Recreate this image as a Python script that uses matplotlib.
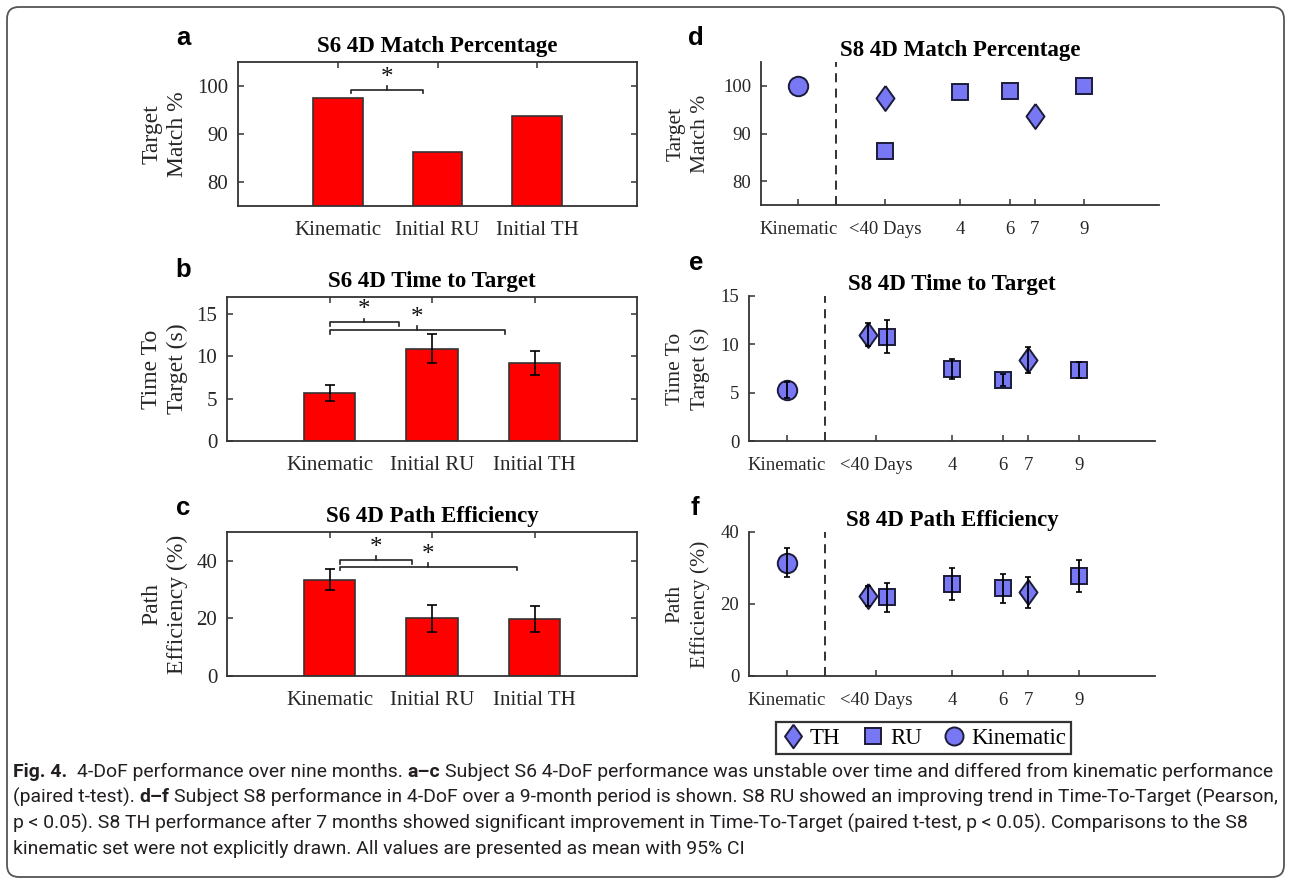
import matplotlib
matplotlib.use("Agg")
import numpy as np
import matplotlib.pyplot as plt
from matplotlib.patches import FancyBboxPatch
from matplotlib.lines import Line2D
from matplotlib import font_manager

# ---- data ----
s6_cats = ["Kinematic", "Initial RU", "Initial TH"]
s6_match = [97.6, 86.2, 93.7]
s6_time = [5.7, 10.9, 9.2]
s6_time_err = [0.95, 1.7, 1.4]
s6_path = [33.5, 20.0, 19.7]
s6_path_err = [3.7, 4.8, 4.5]

# significance brackets: (x start, x end, bracket y, star y)
s6_match_sig = [(1.13, 1.85, 99.2, 101.6)]
s6_time_sig = [(1.0, 1.68, 14.0, 15.5), (1.0, 2.71, 13.1, 14.5)]
s6_path_sig = [(1.10, 1.80, 40.3, 44.6), (1.10, 2.83, 38.0, 42.0)]

s8_tick_pos = [-2.5, 1, 4, 6, 7, 9]
s8_tick_labels = ["Kinematic", "<40 Days", "4", "6", "7", "9"]
s8_kin_x = -2.5
s8_th_x_d = [1, 7]
s8_ru_x_d = [1, 4, 6, 9]
s8_th_x = [0.7, 7]
s8_ru_x = [1.45, 4, 6, 9]

s8_match_kin = 100.0
s8_match_th = [97.5, 93.7]
s8_match_ru = [86.3, 98.7, 98.9, 100.0]

s8_time_kin, s8_time_kin_err = 5.3, 0.8
s8_time_th = [11.0, 8.4]
s8_time_th_err = [1.2, 1.35]
s8_time_ru = [10.8, 7.45, 6.3, 7.35]
s8_time_ru_err = [1.7, 1.05, 0.6, 0.85]

s8_path_kin, s8_path_kin_err = 31.5, 4.0
s8_path_th = [22.3, 23.2]
s8_path_th_err = [2.8, 4.2]
s8_path_ru = [21.9, 25.6, 24.4, 27.8]
s8_path_ru_err = [4.0, 4.5, 4.0, 4.4]

caption_lines = [
    [("Fig. 4.", "bold"), ("  4-DoF performance over nine months.", "normal"), (" a\u2013c", "bold"),
     (" Subject S6 4-DoF performance was unstable over time and differed from kinematic performance", "normal")],
    [("(paired t-test).", "normal"), (" d\u2013f", "bold"),
     (" Subject S8 performance in 4-DoF over a 9-month period is shown. S8 RU showed an improving trend in Time-To-Target (Pearson,", "normal")],
    [("p < 0.05). S8 TH performance after 7 months showed significant improvement in Time-To-Target (paired t-test, p < 0.05). Comparisons to the S8", "normal")],
    [("kinematic set were not explicitly drawn. All values are presented as mean with 95% CI", "normal")],
]

plt.rcParams["font.family"] = "Liberation Serif"
W, H = 1290, 882
fig = plt.figure(figsize=(W / 100, H / 100), dpi=100)

bg = fig.add_axes([0, 0, 1, 1])
bg.set_xlim(0, W)
bg.set_ylim(H, 0)
bg.axis("off")
bg.set_zorder(-5)
bg.add_patch(FancyBboxPatch((7, 7), 1277, 870, boxstyle="round,pad=0,rounding_size=12",
                            fc="white", ec="#555555", lw=1.3))


def px_axes(l, t, r, b):
    return fig.add_axes([l / W, 1 - b / H, (r - l) / W, (b - t) / H])


INK = "#262626"
BLUE = "#7878f5"
EDGE = "#1c1c3a"
DIAMOND = [(0, 1), (0.72, 0), (0, -1), (-0.72, 0), (0, 1)]


def style_axes(ax, box, lsize, xpad):
    for side, s in ax.spines.items():
        s.set_color("#333333")
        s.set_linewidth(1.3)
        if not box and side in ("top", "right"):
            s.set_visible(False)
    ax.tick_params(direction="in", top=box, right=box, labelsize=lsize, pad=7,
                   length=4, width=1.1, color="#333333", labelcolor=INK)
    ax.tick_params(axis="x", pad=xpad)


def bar_panel(ax, vals, errs, ylim, yticks, title, ylabel, sigs, hook):
    x = np.arange(1, len(s6_cats) + 1)
    ax.bar(x, vals, width=0.5, color="#ff0000", edgecolor="#333333", lw=1.2, zorder=2)
    if errs is not None:
        ax.errorbar(x, vals, yerr=errs, fmt="none", ecolor="black", elinewidth=1.2,
                    capsize=3.5, capthick=1.2, zorder=3)
    ax.set_xlim(0, 4)
    ax.set_ylim(*ylim)
    ax.set_xticks(x, s6_cats)
    ax.set_yticks(yticks)
    style_axes(ax, True, 15, 10.5)
    ax.set_title(title, fontsize=16.5, fontweight="bold", pad=7)
    ax.set_ylabel(ylabel, fontsize=17, color=INK, linespacing=1.3)
    for x0, x1, y, ys in sigs:
        xm = (x0 + x1) / 2
        ax.plot([x0, x0, x1, x1], [y - hook, y, y, y - hook], color="#222222", lw=1.2, clip_on=False)
        ax.plot([xm, xm], [y, y + hook], color="#222222", lw=1.2, clip_on=False)
        ax.text(xm, ys, "*", ha="center", va="center", fontsize=18, color="#111111")


def scatter_panel(ax, tx, rx, kin, kin_err, th, th_err, ru, ru_err, ylim, yticks, title, ylabel):
    ax.axvline(-1, color="#222222", ls=(0, (5, 3.5)), lw=1.3)
    mk = dict(ls="none", mfc=BLUE, mec=EDGE, mew=1.4, zorder=3)
    ax.plot([s8_kin_x], [kin], marker="o", ms=14, **mk)
    ax.plot(tx, th, marker=DIAMOND, ms=18, **mk)
    ax.plot(rx, ru, marker="s", ms=11.5, **mk)
    eb = dict(fmt="none", ecolor="black", elinewidth=1.3, capsize=2.5, capthick=1.2, zorder=4)
    if kin_err is not None:
        ax.errorbar([s8_kin_x], [kin], yerr=[kin_err], **eb)
        ax.errorbar(tx, th, yerr=th_err, **eb)
        ax.errorbar(rx, ru, yerr=ru_err, **eb)
    ax.set_xlim(-4, 12)
    ax.set_ylim(*ylim)
    ax.set_xticks(s8_tick_pos, s8_tick_labels)
    ax.set_yticks(yticks)
    style_axes(ax, False, 13.5, 11.5)
    ax.set_title(title, fontsize=16.5, fontweight="bold", pad=4)
    ax.set_ylabel(ylabel, fontsize=15.5, color=INK, linespacing=1.35)


ax_a = px_axes(238, 62, 637, 206)
bar_panel(ax_a, s6_match, None, (75, 105), [80, 90, 100], "S6 4D Match Percentage",
          "Target\nMatch %", s6_match_sig, 0.7)
ax_b = px_axes(227, 297, 637, 441)
bar_panel(ax_b, s6_time, s6_time_err, (0, 17), [0, 5, 10, 15], "S6 4D Time to Target",
          "Time To\nTarget (s)", s6_time_sig, 0.45)
ax_c = px_axes(227, 532, 637, 676)
bar_panel(ax_c, s6_path, s6_path_err, (0, 50), [0, 20, 40], "S6 4D Path Efficiency",
          "Path\nEfficiency (%)", s6_path_sig, 1.3)

ax_d = px_axes(761, 62, 1159, 205)
scatter_panel(ax_d, s8_th_x_d, s8_ru_x_d, s8_match_kin, None, s8_match_th, None,
              s8_match_ru, None, (75, 105), [80, 90, 100], "S8 4D Match Percentage", "Target\nMatch %")
ax_e = px_axes(749, 296, 1155, 441)
scatter_panel(ax_e, s8_th_x, s8_ru_x, s8_time_kin, s8_time_kin_err, s8_time_th, s8_time_th_err,
              s8_time_ru, s8_time_ru_err, (0, 15), [0, 5, 10, 15], "S8 4D Time to Target", "Time To\nTarget (s)")
ax_f = px_axes(749, 532, 1155, 676)
scatter_panel(ax_f, s8_th_x, s8_ru_x, s8_path_kin, s8_path_kin_err, s8_path_th, s8_path_th_err,
              s8_path_ru, s8_path_ru_err, (0, 40), [0, 20, 40], "S8 4D Path Efficiency", "Path\nEfficiency (%)")

for ax, xl in [(ax_a, 188), (ax_b, 188), (ax_c, 188), (ax_d, 710), (ax_e, 710), (ax_f, 710)]:
    pos = ax.get_position()
    ax.yaxis.set_label_coords((xl / W - pos.x0) / pos.width, 0.5)

# panel letters
for letter, x, y in [("a", 183, 45), ("b", 183, 277), ("c", 183, 515),
                     ("d", 696, 45), ("e", 696, 270), ("f", 695, 515)]:
    bg.text(x, y, letter, fontsize=18.5, fontweight="bold", family="Liberation Sans",
            ha="center", va="baseline", color="black")

# legend
handles = [Line2D([], [], ls="none", marker=DIAMOND, ms=17, mfc=BLUE, mec=EDGE, mew=1.4),
           Line2D([], [], ls="none", marker="s", ms=12, mfc=BLUE, mec=EDGE, mew=1.4),
           Line2D([], [], ls="none", marker="o", ms=13, mfc=BLUE, mec=EDGE, mew=1.4)]
leg = fig.legend(handles, ["TH", "RU", "Kinematic"], loc="center",
                 bbox_to_anchor=(923.5 / W, 1 - 738 / H), ncol=3, frameon=True, fancybox=False,
                 edgecolor="black", prop={"family": "Liberation Serif", "size": 16.5},
                 handletextpad=0.25, columnspacing=0.9, handlelength=1.0, borderpad=0.25)
leg.get_frame().set_linewidth(1.6)

# caption
avail = {f.name for f in font_manager.fontManager.ttflist}
cap_family = next(f for f in ["Liberation Sans Narrow", "Roboto", "Lato", "Open Sans", "DejaVu Sans"] if f in avail)
renderer = fig.canvas.get_renderer()


def text_width(s, size, weight):
    t = bg.text(0, 0, s, fontsize=size, fontweight=weight, family=cap_family)
    w = t.get_window_extent(renderer=renderer).width
    t.remove()
    return w


def line_width(runs, size):
    sp = text_width("x x", size, "normal") - text_width("xx", size, "normal")
    total = 0
    for s, wgt in runs:
        n = len(s) - len(s.lstrip(" "))
        total += n * sp + text_width(s.lstrip(" "), size, wgt)
    return total


cap_size = 12 * min(1262 / line_width(caption_lines[0], 12), 1262 / line_width(caption_lines[1], 12))
space_w = text_width("x x", cap_size, "normal") - text_width("xx", cap_size, "normal")
for runs, y in zip(caption_lines, [772, 797, 823, 849]):
    x = 13
    for s, wgt in runs:
        n = len(s) - len(s.lstrip(" "))
        x += n * space_w
        t = bg.text(x, y, s.lstrip(" "), fontsize=cap_size, fontweight=wgt, family=cap_family,
                    ha="left", va="center", color="#231f20")
        x += t.get_window_extent(renderer=renderer).width

fig.savefig("out.png", dpi=100)
